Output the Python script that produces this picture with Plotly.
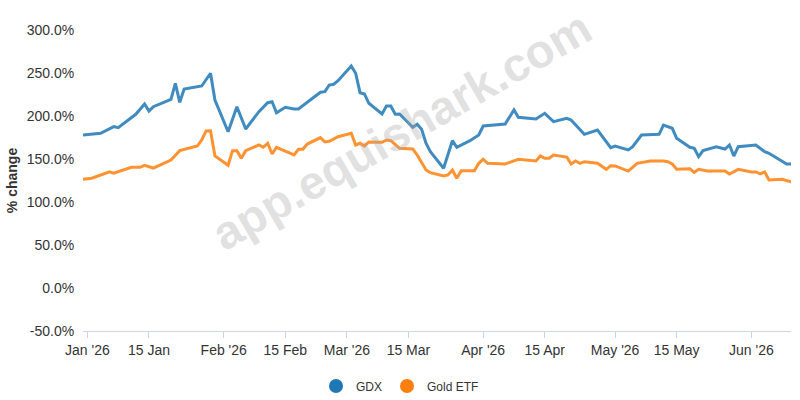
import plotly.graph_objects as go

# ---- data ----
gdx_dates = [
    "2025-12-31", "2026-01-04", "2026-01-07", "2026-01-08", "2026-01-12", "2026-01-14",
    "2026-01-15", "2026-01-16", "2026-01-20", "2026-01-21", "2026-01-22", "2026-01-23",
    "2026-01-27", "2026-01-29", "2026-01-30", "2026-02-02", "2026-02-04", "2026-02-06",
    "2026-02-09", "2026-02-11", "2026-02-12", "2026-02-13", "2026-02-15", "2026-02-17",
    "2026-02-18", "2026-02-20", "2026-02-23", "2026-02-24", "2026-02-25", "2026-02-26",
    "2026-02-27", "2026-03-02", "2026-03-03", "2026-03-04", "2026-03-05", "2026-03-06",
    "2026-03-09", "2026-03-10", "2026-03-11", "2026-03-12", "2026-03-13", "2026-03-16",
    "2026-03-17", "2026-03-18", "2026-03-19", "2026-03-20", "2026-03-23", "2026-03-25",
    "2026-03-26", "2026-03-29", "2026-03-31", "2026-04-01", "2026-04-06", "2026-04-08",
    "2026-04-09", "2026-04-13", "2026-04-15", "2026-04-17", "2026-04-20", "2026-04-21",
    "2026-04-24", "2026-04-27", "2026-04-30", "2026-05-01", "2026-05-04", "2026-05-05",
    "2026-05-07", "2026-05-11", "2026-05-12", "2026-05-14", "2026-05-15", "2026-05-18",
    "2026-05-19", "2026-05-20", "2026-05-21", "2026-05-24", "2026-05-26", "2026-05-27",
    "2026-05-28", "2026-05-29", "2026-06-02", "2026-06-04", "2026-06-05", "2026-06-09",
    "2026-06-10",
]
gdx_values = [
    177.9, 179.9, 187.6, 186.4, 202.0, 214.0,
    205.8, 210.8, 219.4, 238.0, 215.9, 231.4,
    234.9, 249.7, 218.6, 181.7, 210.8, 184.9,
    205.0, 215.5, 216.6, 203.8, 210.1, 208.1,
    208.1, 215.5, 227.6, 228.3, 236.0, 236.9,
    241.0, 258.1, 249.7, 227.1, 225.6, 214.8,
    202.3, 211.6, 211.6, 202.0, 202.3, 186.9,
    190.3, 184.5, 168.3, 158.5, 139.2, 171.3,
    163.6, 171.3, 177.9, 188.4, 190.7, 207.0,
    198.5, 196.5, 203.1, 193.4, 197.3, 195.3,
    178.7, 183.7, 163.1, 165.1, 160.5, 164.3,
    177.9, 178.7, 189.5, 185.7, 174.1, 163.6,
    162.4, 152.7, 159.7, 164.3, 161.6, 166.3,
    153.5, 164.3, 166.3, 158.5, 156.6, 144.2,
    144.2,
]

gold_dates = [
    "2025-12-31", "2026-01-02", "2026-01-06", "2026-01-07", "2026-01-11", "2026-01-13",
    "2026-01-14", "2026-01-16", "2026-01-20", "2026-01-22", "2026-01-26", "2026-01-27",
    "2026-01-28", "2026-01-29", "2026-01-30", "2026-02-02", "2026-02-03", "2026-02-04",
    "2026-02-05", "2026-02-06", "2026-02-09", "2026-02-10", "2026-02-11", "2026-02-12",
    "2026-02-13", "2026-02-17", "2026-02-18", "2026-02-19", "2026-02-20", "2026-02-23",
    "2026-02-24", "2026-02-25", "2026-02-27", "2026-03-02", "2026-03-03", "2026-03-04",
    "2026-03-05", "2026-03-06", "2026-03-09", "2026-03-10", "2026-03-11", "2026-03-13",
    "2026-03-16", "2026-03-17", "2026-03-19", "2026-03-20", "2026-03-23", "2026-03-24",
    "2026-03-25", "2026-03-26", "2026-03-27", "2026-03-30", "2026-03-31", "2026-04-01",
    "2026-04-02", "2026-04-06", "2026-04-09", "2026-04-13", "2026-04-14", "2026-04-15",
    "2026-04-16", "2026-04-17", "2026-04-20", "2026-04-21", "2026-04-22", "2026-04-23",
    "2026-04-24", "2026-04-27", "2026-04-29", "2026-04-30", "2026-05-01", "2026-05-04",
    "2026-05-06", "2026-05-09", "2026-05-12", "2026-05-13", "2026-05-14", "2026-05-15",
    "2026-05-18", "2026-05-19", "2026-05-20", "2026-05-22", "2026-05-26", "2026-05-27",
    "2026-05-29", "2026-06-01", "2026-06-02", "2026-06-03", "2026-06-04", "2026-06-05",
    "2026-06-08", "2026-06-10",
]
gold_values = [
    126.4, 127.6, 135.2, 133.4, 140.3, 140.3,
    142.7, 139.5, 148.8, 159.7, 165.1, 172.1,
    182.6, 182.9, 153.5, 142.7, 159.7, 159.7,
    150.8, 159.7, 166.3, 163.6, 168.3, 155.8,
    163.6, 154.7, 161.3, 161.3, 167.4, 174.8,
    169.8, 170.6, 175.9, 179.9, 166.3, 168.3,
    165.1, 169.8, 169.4, 172.1, 171.3, 162.4,
    161.6, 154.7, 137.2, 134.1, 130.2, 131.4,
    137.2, 127.6, 136.4, 136.4, 145.0, 149.7,
    145.0, 144.2, 149.7, 147.7, 153.5, 150.8,
    150.8, 154.7, 152.3, 144.2, 147.7, 145.0,
    146.9, 145.0, 138.0, 142.2, 141.9, 136.0,
    145.0, 147.7, 147.7, 146.9, 144.2, 138.0,
    138.7, 134.5, 138.0, 136.0, 136.0, 132.6,
    138.0, 134.9, 134.9, 132.6, 134.9, 125.6,
    126.4, 123.6,
]

x_tick_vals = ["2026-01-01", "2026-01-15", "2026-02-01", "2026-02-15", "2026-03-01",
               "2026-03-15", "2026-04-01", "2026-04-15", "2026-05-01", "2026-05-15",
               "2026-06-01"]
x_tick_text = ["Jan '26", "15 Jan", "Feb '26", "15 Feb", "Mar '26", "15 Mar",
               "Apr '26", "15 Apr", "May '26", "15 May", "Jun '26"]
y_tick_vals = [-50, 0, 50, 100, 150, 200, 250, 300]
y_tick_text = ["-50.0%", "0.0%", "50.0%", "100.0%", "150.0%", "200.0%", "250.0%", "300.0%"]

series_names = ["GDX", "Gold ETF"]
series_colors = ["#1f77b4", "#ff7f0e"]

FONT = "Liberation Sans, Arial, sans-serif"
TEXT = "#333333"

fig = go.Figure()
for name, xs, ys, col in zip(series_names, [gdx_dates, gold_dates],
                             [gdx_values, gold_values], series_colors):
    fig.add_trace(go.Scatter(x=xs, y=ys, mode="lines", name=name, showlegend=False,
                             line=dict(color=col, width=3), opacity=0.85))
# legend entries with circle symbols
for name, col in zip(series_names, series_colors):
    fig.add_trace(go.Scatter(x=[None], y=[None], mode="markers", name=name,
                             marker=dict(color=col, size=14, symbol="circle")))

fig.add_annotation(text="<b>app.equishark.com</b>", xref="paper", yref="paper",
                   x=(401 - 83) / (791 - 83), y=(331 - 130) / 301, showarrow=False,
                   xanchor="center", yanchor="middle",
                   textangle=-30, font=dict(family=FONT, size=47, color="rgba(170,170,170,0.36)"))

fig.update_layout(
    width=800, height=400,
    margin=dict(l=83, r=9, t=30, b=69),
    paper_bgcolor="white", plot_bgcolor="white",
    font=dict(family=FONT, size=14, color=TEXT),
    legend=dict(orientation="h", xref="container", yref="container",
                x=0.5, xanchor="center", y=14 / 400, yanchor="middle",
                font=dict(size=12, color=TEXT), itemwidth=30, tracegroupgap=0),
    xaxis=dict(range=["2025-12-31", "2026-06-10"], tickmode="array",
               tickvals=x_tick_vals, ticktext=x_tick_text, showgrid=False,
               showline=True, linecolor="#ccd6eb", linewidth=1,
               ticks="outside", ticklen=6, tickcolor="#ccd6eb",
               tickfont=dict(size=14, color=TEXT), zeroline=False),
    yaxis=dict(range=[-50, 300], tickmode="array", tickvals=y_tick_vals,
               ticktext=y_tick_text, showgrid=False, zeroline=False, showline=False,
               ticks="outside", ticklen=5, tickcolor="rgba(0,0,0,0)",
               tickfont=dict(size=14, color=TEXT),
               title=dict(text="<b>% change</b>", standoff=5,
                          font=dict(size=14, color=TEXT))),
)

fig.write_html("out.html")
